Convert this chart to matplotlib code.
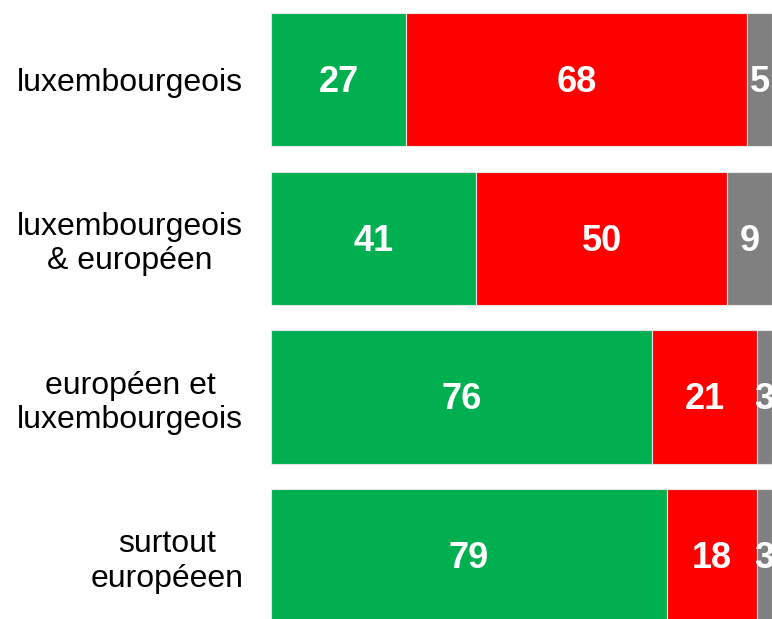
import numpy as np
import matplotlib.pyplot as plt

plt.rcParams['font.family'] = ['Liberation Sans', 'DejaVu Sans']

categories = ['luxembourgeois', 'luxembourgeois\n& européen', 'européen et\nluxembourgeois', 'surtout\neuropéeen']
oui = [27, 41, 76, 79]
non = [68, 50, 21, 18]
nsp = [5, 9, 3, 3]
colors = ['#00B050', '#FF0000', '#808080']

fig = plt.figure(figsize=(7.72, 6.19), dpi=100)
ax = fig.add_axes([271 / 772, 0, 501 / 772, 1])

y = np.arange(len(categories))
left = np.zeros(len(categories))
for vals, c in zip([oui, non, nsp], colors):
    vals = np.array(vals)
    ax.barh(y, vals, left=left, height=0.84, color=c, edgecolor='#e6e6e6', linewidth=0.8)
    for yi, l, v in zip(y, left, vals):
        # gray labels get cut by the figure edge, same as the original
        ax.text(l + v / 2, yi + 0.018, str(v), ha='center', va='center', color='white',
                fontsize=26, fontweight='bold')
    left += vals

ax.set_xlim(0, 100)
ax.set_ylim(3.397, -0.5)
ax.set_yticks(y)
ax.set_yticklabels(categories, fontsize=23, multialignment='center', linespacing=1.2)
ax.tick_params(axis='y', length=0, pad=20)
ax.set_xticks([])
for s in ax.spines.values():
    s.set_visible(False)

plt.savefig('out.png', dpi=100)
